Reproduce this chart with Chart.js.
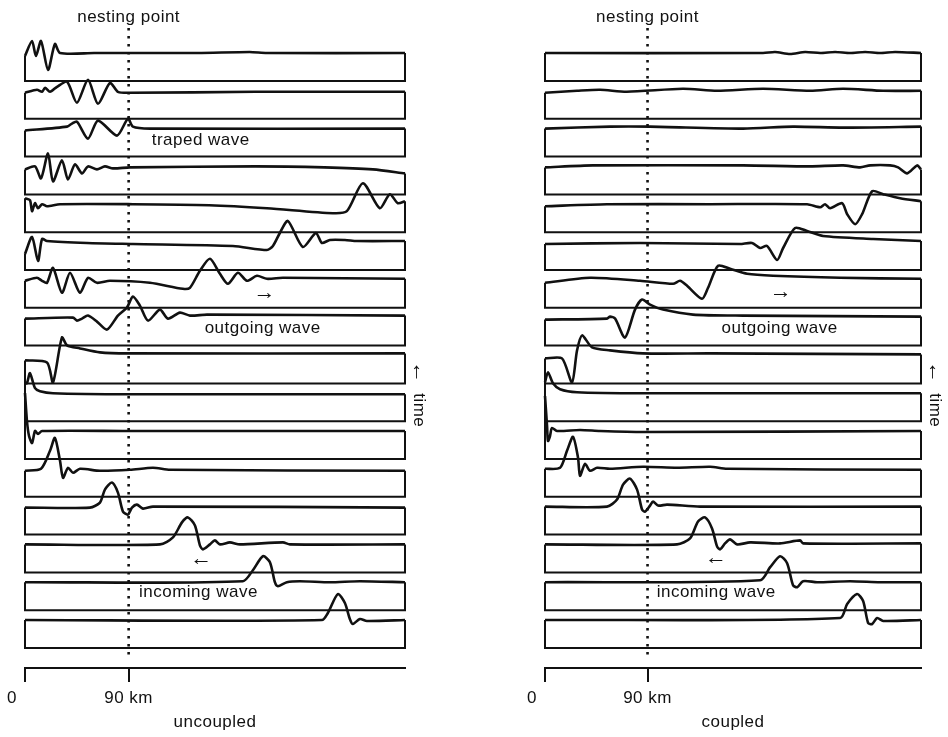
<!DOCTYPE html>
<html>
<head>
<meta charset="utf-8">
<script src="https://cdn.jsdelivr.net/npm/chart.js@4.4.0/dist/chart.umd.min.js"></script>
<style>
  html, body { margin: 0; padding: 0; background: #fff; }
  #wrap { position: relative; width: 948px; height: 737px; }
  canvas { position: absolute; top: 0; }
</style>
</head>
<body>
<div id="wrap">
  <canvas id="left" width="474" height="737" style="left:0"></canvas>
  <canvas id="right" width="474" height="737" style="left:474px"></canvas>
</div>
<script>
// distance axis (km) and its two labelled ticks
const xTicks = [0, 90];
const tickLabels = ['0', '90 km'];
const panelTitles = ['uncoupled', 'coupled'];
const nestingKm = 90;

// each row: [km, amplitude] pairs, amplitude measured upward from the row's rest level
// rows go from the latest time (top) to the earliest (bottom)
const uncoupledTraces = [
  [[0,-3],[6.1,12],[9.5,-3],[13.9,12],[20,-17],[26,9],[30.4,0],[60,0],[150,0],[195,1],[210,0],[330,0]],
  [[0,-2],[10.4,1],[14.8,-1],[17.4,3],[21.7,-1],[27.8,4],[36.5,9],[45.1,-12],[54.7,11],[63.4,-13],[73.8,8],[80.7,-1],[91.1,-2],[200,-1],[330,-1]],
  [[0,-2],[36.5,2],[40.8,5],[45.1,7],[54.7,-10],[63.4,8],[79.9,-7],[89.4,10],[93.7,2],[108.5,0],[330,0]],
  [[0,-3],[8.7,0],[13.9,-12],[20,13],[24.3,-15],[32.1,6],[37.3,-13],[43.4,2],[49.5,-7],[54.7,0],[62.5,-3],[69.4,0],[76.4,-2],[91.1,-1],[200,0],[260,-1],[302.1,-3],[330,-7]],
  [[0,6],[4.3,4],[6.1,-7],[8.7,1],[11.3,-4],[14.8,0],[19.1,-2],[30.4,0],[93.7,0],[160,-1],[210.1,-4],[267.3,-9],[279.5,-7],[293.4,21],[308.1,-4],[316.8,10],[323.8,1],[330,3]],
  [[0,-12],[6.1,5],[11.3,-19],[14.8,3],[19.1,1],[53.8,-1],[93.7,-2],[180.5,-4],[210.1,-8],[215.3,-4],[221.3,9],[228.3,21],[241.3,-5],[252.6,9],[257.8,-1],[264.7,2],[277.8,2],[288.2,1],[330,1]],
  [[0,-1],[10.4,2],[14.8,-1],[19.1,-3],[24.3,12],[32.1,-13],[39.1,7],[47.7,-13],[54.7,2],[62.5,-3],[73.8,-1],[108.5,-3],[137.1,-9],[143.2,-8],[151.9,9],[160.6,21],[169.3,6],[176.2,-4],[184.9,7],[192.7,-1],[201.4,4],[210.1,1],[224,2],[330,1]],
  [[0,-1],[41.7,0],[45.1,-3],[49.5,-1],[54.7,2],[62.5,-4],[71.2,-12],[80.7,2],[88.5,10],[93.7,21],[99.8,12],[106.8,-3],[117.2,8],[124.1,-1],[134.5,5],[143.2,2],[158,3],[330,2]],
  [[0,-5],[19.1,-7],[24.3,-27],[32.1,18],[36.5,10],[47.7,7],[65.1,3],[89.4,2],[330,2]],
  [[0,10],[1.7,10],[4.3,20],[8.7,5],[13,2],[24.3,0],[91.1,-1],[330,-1]],
  [[0,38],[1.7,10],[3.5,-5],[6.1,-12],[8.7,0],[11.3,-3],[14.8,0],[88.5,0],[330,0]],
  [[0,-2],[13.9,0],[21.7,18],[26,31],[30.4,8],[33,-9],[37.3,1],[41.7,-4],[47.7,0],[65.1,-2],[91.1,-1],[111.1,1],[125.9,-1],[330,-2]],
  [[0,-1],[56.4,-1],[65.1,4],[69.4,17],[75.5,24],[80.7,14],[85.1,-5],[89.4,-8],[92.9,-1],[97.2,2],[102.4,-2],[111.1,0],[330,-1]],
  [[0,0],[117.2,0],[128.5,7],[136.3,22],[141.5,27],[147.6,19],[151.9,-1],[154.5,-5],[160.6,0],[164.9,4],[169.3,0],[177.9,2],[186.6,0],[224,2],[230,0],[330,0]],
  [[0,0],[189.2,1],[197.9,12],[206.6,26],[212.7,20],[217,0],[219.6,-4],[227.4,0],[238.7,1],[264.7,0],[290.8,1],[330,0]],
  [[0,0],[257.8,0],[263,7],[271.7,26],[277.8,17],[282.1,1],[284.7,-4],[290.8,1],[296.9,-1],[330,0]]
];

const coupledTraces = [
  [[0,0],[191.4,0],[201.9,1],[215.1,-1],[228.3,1],[241.5,0],[254.6,1],[267.8,0],[281,1],[294.1,0],[307.3,1],[330,0]],
  [[0,-2],[28.1,0],[48.3,1],[71.8,-1],[121,2],[151,0],[191.4,2],[232.7,0],[261.6,2],[296.8,0],[330,0]],
  [[0,0],[57.1,2],[92.2,2],[173.8,0],[217.7,2],[261.6,1],[330,2]],
  [[0,-1],[42.1,1],[173.8,1],[232.7,0],[261.6,1],[276.6,-1],[285.4,1],[302.9,1],[309.9,-1],[317.8,-7],[326.6,1],[330,-3]],
  [[0,-2],[54.4,0],[144.9,0],[230,0],[241.5,-3],[245.8,0],[250.2,-4],[260.8,1],[265.2,-10],[272.2,-20],[278.3,-10],[287.1,13],[296.8,10],[311.7,6],[330,3]],
  [[0,-2],[83.4,-1],[171.2,-2],[181.7,-1],[188.8,-6],[194.9,-4],[203.7,-18],[209,-6],[219.5,14],[230,11],[244.1,6],[288,3],[330,1]],
  [[0,-3],[39.5,2],[83.4,-1],[112.4,-4],[118.5,-1],[124.7,-6],[137.8,-19],[143.1,-8],[151.9,14],[162.4,11],[177.4,6],[200.2,4],[259,2],[330,1]],
  [[0,-2],[54.4,-1],[57.1,1],[61.5,-1],[70.2,-20],[79,8],[85.2,18],[92.2,13],[103.6,8],[129.9,3],[173.8,2],[330,1]],
  [[0,-3],[14.9,-3],[23.7,-27],[28.1,5],[32.5,20],[41.3,8],[57.1,5],[86,2],[144.9,2],[330,1]],
  [[0,11],[2.6,21],[7,10],[13.2,4],[28.1,1],[86,0],[330,0]],
  [[0,35],[1.8,5],[2.6,-10],[4.4,-5],[6.1,3],[10.5,0],[30.7,1],[48.3,0],[86,-1],[330,0]],
  [[0,0],[13.2,1],[19.3,18],[24.6,32],[29,11],[30.7,-7],[35.1,5],[39.5,-2],[45.7,1],[57.1,0],[86,2],[115.9,1],[144.9,2],[159.8,0],[330,-1]],
  [[0,0],[54.4,0],[63.2,7],[68.5,22],[74.6,28],[80.8,17],[85.2,-3],[87.8,-5],[92.2,1],[94.8,5],[99.2,1],[107.1,2],[136.1,0],[330,0]],
  [[0,0],[115.9,0],[127.3,6],[134.3,23],[140.5,27],[146.6,16],[151,-2],[153.7,-5],[158,1],[162.4,5],[168.6,0],[180,2],[206.3,1],[223.9,4],[226.5,1],[330,1]],
  [[0,0],[188.8,2],[197.6,15],[206.3,26],[212.5,19],[217.7,-3],[221.3,-5],[226.5,1],[238.8,0],[267.8,1],[294.1,0],[330,0]],
  [[0,0],[259,2],[265.2,16],[273.9,26],[279.2,19],[283.6,-3],[287.1,-4],[291.5,2],[296.8,-1],[330,0]]
];

// layout of the stacked rows in y-scale units (1 unit = 1 px)
const ROW_GAP = 37.8, BOX_H = 28, FIRST_BOTTOM = 587, Y_MAX = 668;
const rowBottom = i => FIRST_BOTTOM - ROW_GAP * i;
const rowLevel = i => rowBottom(i) + BOX_H;

const INK = '#111';
const FONT_FAMILY = '"Liberation Sans", Arial, Helvetica, sans-serif';

function buildDatasets(traces) {
  const sets = [];
  traces.forEach((tr, i) => {
    const lv = rowLevel(i), bt = rowBottom(i);
    const pts = tr.map(([x, a]) => ({ x: x, y: lv + a }));
    const first = pts[0], last = pts[pts.length - 1];
    sets.push({ data: pts, tension: 0.25, borderWidth: 2.6 });
    // box: left side, bottom, right side
    sets.push({
      data: [{ x: first.x, y: first.y }, { x: first.x, y: bt }, { x: last.x, y: bt }, { x: last.x, y: last.y }],
      tension: 0, borderWidth: 2
    });
  });
  // dotted nesting point line
  sets.push({
    data: [{ x: nestingKm, y: Y_MAX - 28 }, { x: nestingKm, y: 8 }],
    borderDash: [2.5, 5.5], borderWidth: 2.6, tension: 0
  });
  return sets.map(d => Object.assign({
    showLine: true, pointRadius: 0, borderColor: INK, clip: false, fill: false
  }, d));
}

function textPlugin(notes, title) {
  return {
    id: 'panelText',
    afterDraw(chart) {
      const { ctx, chartArea } = chart;
      const x = chart.scales.x, y = chart.scales.y;
      ctx.save();
      ctx.fillStyle = INK;
      ctx.textBaseline = 'middle';
      const put = (t, px, py, align, size) => {
        ctx.font = (size ? 'bold ' + size : 17) + 'px ' + FONT_FAMILY;
        if ('letterSpacing' in ctx) ctx.letterSpacing = size ? '0px' : '0.5px';
        ctx.textAlign = align;
        ctx.fillText(t, px, py);
      };

      put('nesting point', x.getPixelForValue(nestingKm), 17, 'center');
      put(tickLabels[0], x.getPixelForValue(xTicks[0]) - 13, chartArea.bottom + 30, 'center');
      put(tickLabels[1], x.getPixelForValue(xTicks[1]), chartArea.bottom + 30, 'center');
      put(title, x.getPixelForValue(165), chartArea.bottom + 54, 'center');

      notes.forEach(n => {
        const py = y.getPixelForValue(rowLevel(n.row)) + n.dy;
        put(n.text, x.getPixelForValue(n.km), py, n.align || 'left', n.size);
      });

      // rotated time label at the right edge
      ctx.translate(x.getPixelForValue(342), y.getPixelForValue(rowLevel(9)) + 3);
      ctx.rotate(Math.PI / 2);
      put('\u2190', -24, 0, 'center', 22);
      put('time', 14, 0, 'center');
      ctx.restore();
    }
  };
}

function makePanel(id, traces, title, notes, padLeft, padRight) {
  new Chart(document.getElementById(id), {
    type: 'scatter',
    data: { datasets: buildDatasets(traces) },
    options: {
      responsive: false,
      animation: false,
      events: [],
      layout: { padding: { left: padLeft, right: padRight, top: 0, bottom: 55 } },
      plugins: { legend: { display: false }, tooltip: { enabled: false } },
      scales: {
        x: {
          type: 'linear', min: 0, max: 330,
          afterBuildTicks: s => { s.ticks = xTicks.map(v => ({ value: v })); },
          ticks: { display: false },
          grid: { drawOnChartArea: false, drawTicks: true, tickLength: 14, color: INK, lineWidth: 2 },
          border: { display: true, color: INK, width: 2 }
        },
        y: { display: false, min: 0, max: Y_MAX }
      }
    },
    plugins: [textPlugin(notes, title)]
  });
}

makePanel('left', uncoupledTraces, panelTitles[0], [
  { text: 'traped wave', km: 110, row: 2, dy: 12 },
  { text: '\u2192', km: 208, row: 6, dy: 13, align: 'center', size: 22 },
  { text: 'outgoing wave', km: 156, row: 7, dy: 11 },
  { text: '\u2190', km: 153, row: 13, dy: 15, align: 'center', size: 22 },
  { text: 'incoming wave', km: 99, row: 14, dy: 10 }
], 25, 69);

makePanel('right', coupledTraces, panelTitles[1], [
  { text: '\u2192', km: 207, row: 6, dy: 12, align: 'center', size: 22 },
  { text: 'outgoing wave', km: 155, row: 7, dy: 11 },
  { text: '\u2190', km: 150, row: 13, dy: 14, align: 'center', size: 22 },
  { text: 'incoming wave', km: 98, row: 14, dy: 10 }
], 71, 27);
</script>
</body>
</html>
